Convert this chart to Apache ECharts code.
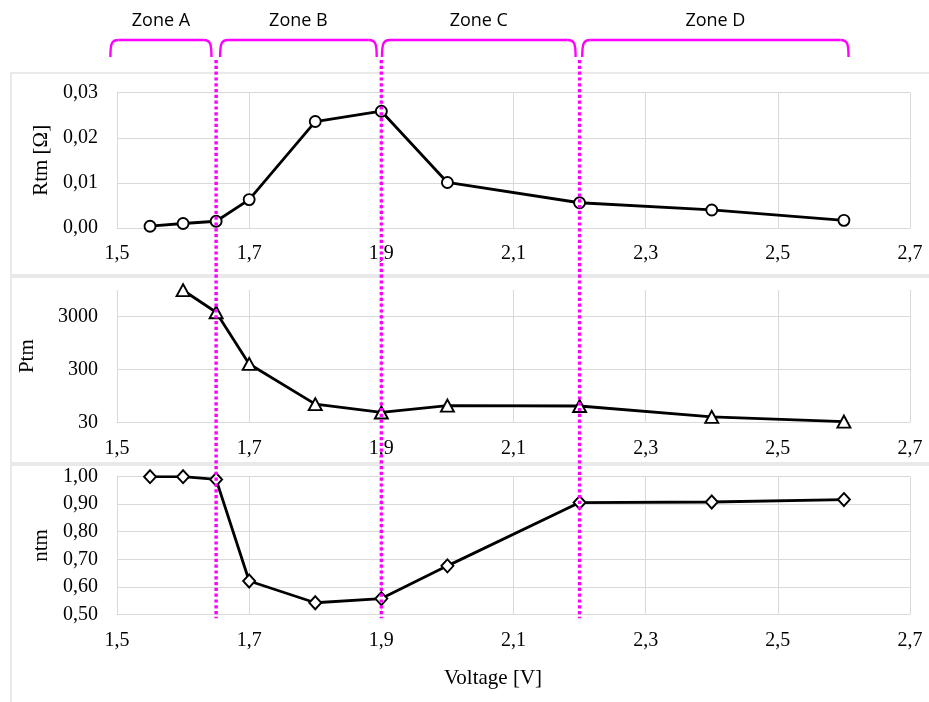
<!DOCTYPE html>
<html><head><meta charset="utf-8">
<script src="https://cdn.jsdelivr.net/npm/echarts@6/dist/echarts.min.js"></script>
<style>html,body{margin:0;padding:0;background:#fff}#c{width:929px;height:702px}</style>
</head><body><div id="c"></div>
<script>
// ---- data ----
const voltage = [1.55, 1.6, 1.65, 1.7, 1.8, 1.9, 2.0, 2.2, 2.4, 2.6];
const rtm = [0.0004, 0.0010, 0.0015, 0.0063, 0.0236, 0.0259, 0.0101, 0.0056, 0.0040, 0.0017];
const ptmVoltage = [1.6, 1.65, 1.7, 1.8, 1.9, 2.0, 2.2, 2.4, 2.6];
const ptm = [9400, 3600, 380, 66, 46, 62, 61, 38, 31];
const ntm = [1.00, 1.00, 0.99, 0.621, 0.542, 0.557, 0.676, 0.906, 0.908, 0.917];
const xTicks = [1.5, 1.7, 1.9, 2.1, 2.3, 2.5, 2.7];
const ptmTicks = [30, 300, 3000];
const zoneBoundaries = [1.65, 1.9, 2.2];
const zoneNames = ['Zone A', 'Zone B', 'Zone C', 'Zone D'];
const zoneStart = [1.49, 1.656, 1.901, 2.204];
const zoneEnd = [1.643, 1.893, 2.194, 2.607];

// ---- styles ----
const SERIF = '"Liberation Serif", "Times New Roman", serif';
const GRID = '#d9d9d9';
const grids = [
  {left: 117, width: 793, top: 92.7, height: 135.3},
  {left: 117, width: 793, top: 290, height: 132.3},
  {left: 117, width: 793, top: 476.7, height: 137.6}
];
const comma = (v, d) => v.toFixed(d).replace('.', ',');

function xAxis(i) {
  return {
    type: 'value', gridIndex: i, min: 1.5, max: 2.7,
    axisLine: {show: true, lineStyle: {color: GRID, width: 1}},
    axisTick: {show: false, customValues: xTicks},
    axisLabel: {customValues: xTicks, margin: 16, color: '#000', fontFamily: SERIF, fontSize: 20,
      formatter: v => comma(v, 1)},
    splitLine: {show: true, lineStyle: {color: GRID, width: 1}}
  };
}
const yBase = (i, name, gap) => ({
  type: 'value', gridIndex: i, name: name, nameLocation: 'middle', nameGap: gap,
  nameTextStyle: {color: '#000', fontFamily: SERIF, fontSize: 21},
  axisLine: {show: false}, axisTick: {show: false},
  axisLabel: {margin: 19, color: '#000', fontFamily: SERIF, fontSize: 20},
  splitLine: {show: true, lineStyle: {color: GRID, width: 1}}
});

const y0 = yBase(0, 'Rtm [Ω]', 61);
Object.assign(y0, {min: 0, max: 0.03, interval: 0.01});
y0.axisLabel.formatter = v => comma(v, 2);

const ptmLogTicks = ptmTicks.map(v => Math.log10(v));
const y1 = yBase(1, 'Ptm', 79);
Object.assign(y1, {min: Math.log10(ptmTicks[0]), max: Math.log10(ptmTicks[0]) + 2.5});
y1.axisTick.customValues = ptmLogTicks;
y1.axisLabel.customValues = ptmLogTicks;
y1.axisLabel.formatter = v => String(Math.round(Math.pow(10, v)));

const y2 = yBase(2, 'ntm', 63);
Object.assign(y2, {min: 0.5, max: 1.0, interval: 0.1});
y2.axisLabel.formatter = v => comma(v, 2);

const lineStyle = {color: '#000', width: 2.8};
const itemStyle = {color: '#fff', borderColor: '#000', borderWidth: 1.9};

const chart = echarts.init(document.getElementById('c'), null, {renderer: 'canvas'});
chart.setOption({
  animation: false,
  backgroundColor: '#fff',
  grid: grids,
  xAxis: [xAxis(0), xAxis(1), xAxis(2)],
  yAxis: [y0, y1, y2],
  series: [
    {type: 'line', xAxisIndex: 0, yAxisIndex: 0, data: voltage.map((v, i) => [v, rtm[i]]),
     symbol: 'circle', symbolSize: 11, showAllSymbol: true, lineStyle, itemStyle, z: 3},
    {type: 'line', xAxisIndex: 1, yAxisIndex: 1, data: ptmVoltage.map((v, i) => [v, Math.log10(ptm[i])]),
     symbol: 'triangle', symbolSize: [13, 12], showAllSymbol: true, lineStyle, itemStyle, z: 3},
    {type: 'line', xAxisIndex: 2, yAxisIndex: 2, data: voltage.map((v, i) => [v, ntm[i]]),
     symbol: 'diamond', symbolSize: [12, 13], showAllSymbol: true, lineStyle, itemStyle, z: 3}
  ]
});

// ---- annotations ----
const px = v => chart.convertToPixel({xAxisIndex: 0}, v);
const bottomY = chart.convertToPixel({yAxisIndex: 2}, 0.5) + 4;
const graphics = [];
const MAG = '#ff00ff';
// panel frames
[[73, 275], [277, 463], [465, 712]].forEach(([t, b]) => {
  graphics.push({type: 'rect', z: -10, shape: {x: 11, y: t, width: 940, height: b - t},
    style: {fill: null, stroke: '#e2e2e2', lineWidth: 1.5}});
});
// zone braces and labels
zoneNames.forEach((name, i) => {
  const a = px(zoneStart[i]), b = px(zoneEnd[i]);
  const top = 40, bot = 57, r = 8;
  const bs = {fill: null, stroke: MAG, lineWidth: 2.4};
  graphics.push({type: 'line', z: 50, shape: {x1: a + r, y1: top, x2: b - r, y2: top}, style: bs});
  graphics.push({type: 'bezierCurve', z: 50,
    shape: {x1: a, y1: bot, cpx1: a, cpy1: top + 4, cpx2: a + 1, cpy2: top, x2: a + r, y2: top}, style: bs});
  graphics.push({type: 'bezierCurve', z: 50,
    shape: {x1: b - r, y1: top, cpx1: b - 1, cpy1: top, cpx2: b, cpy2: top + 4, x2: b, y2: bot}, style: bs});
  graphics.push({type: 'text', z: 50,
    style: {text: name, x: (a + b) / 2, y: 21, align: 'center', verticalAlign: 'middle',
      fill: '#000', font: '18px "Open Sans", "Noto Sans", sans-serif'}});
});
// dotted boundaries
zoneBoundaries.forEach(v => {
  const x = px(v);
  graphics.push({type: 'line', z: 100, shape: {x1: x, y1: 60, x2: x, y2: bottomY},
    style: {stroke: MAG, lineWidth: 3.4, lineDash: [3.2, 2.6]}});
});
// x axis title
graphics.push({type: 'text', z: 50,
  style: {text: 'Voltage [V]', x: 493, y: 678, align: 'center', verticalAlign: 'middle',
    fill: '#000', font: '21px "Liberation Serif", serif'}});
chart.setOption({graphic: graphics});
</script>
</body></html>
